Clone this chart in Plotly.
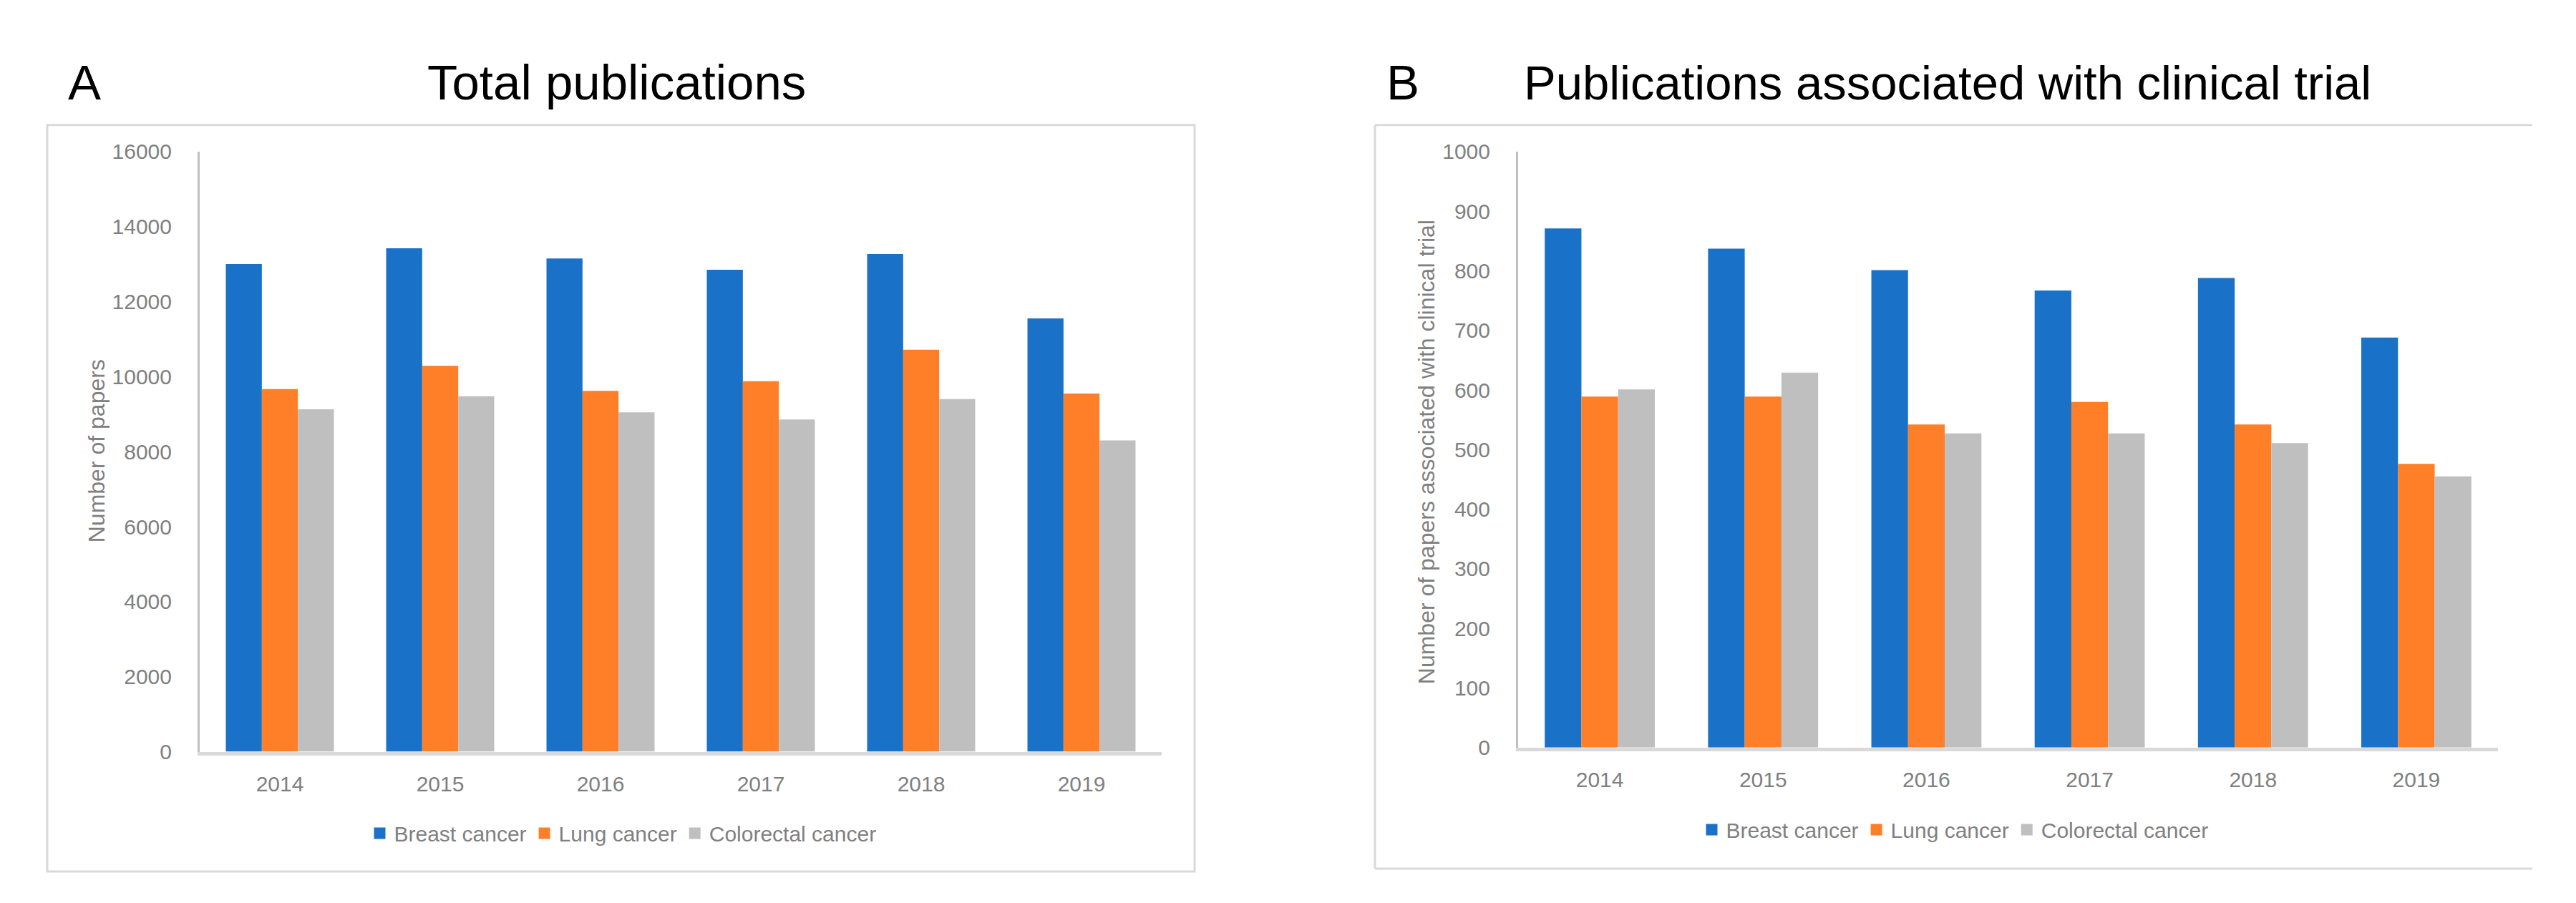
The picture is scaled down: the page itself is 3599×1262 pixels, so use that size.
import plotly.graph_objects as go

W, H = 3599, 1262

years = ["2014", "2015", "2016", "2017", "2018", "2019"]
series_names = ["Breast cancer", "Lung cancer", "Colorectal cancer"]

total_breast = [13000, 13420, 13150, 12850, 13270, 11550]
total_lung = [9670, 10290, 9620, 9880, 10720, 9550]
total_colorectal = [9130, 9480, 9050, 8860, 9400, 8300]

trial_breast = [871, 837, 801, 767, 788, 688]
trial_lung = [589, 589, 542, 580, 542, 476]
trial_colorectal = [601, 629, 527, 527, 511, 455]

colors = ["#1A71C8", "#FE7F27", "#BFBFBF"]
TEXT = "#808080"
FONT = "Liberation Sans, Arial, sans-serif"

def px(x):
    return x / W

def py(y):
    return 1 - y / H

fig = go.Figure()

panels = [
    ("x", "y", "legend", [total_breast, total_lung, total_colorectal]),
    ("x2", "y2", "legend2", [trial_breast, trial_lung, trial_colorectal]),
]
for xa, ya, lg, data in panels:
    for name, vals, c in zip(series_names, data, colors):
        fig.add_trace(go.Bar(x=years, y=vals, name=name, marker=dict(color=c, line=dict(width=0)),
                             xaxis=xa, yaxis=ya, showlegend=False))
    # legend entries with larger square swatches
    for name, c in zip(series_names, colors):
        fig.add_trace(go.Scatter(x=[None], y=[None], mode="markers", name=name,
                                 marker=dict(symbol="square", size=20, color=c),
                                 xaxis=xa, yaxis=ya, legend=lg, showlegend=True))

axis_common = dict(showgrid=False, zeroline=False, tickfont=dict(family=FONT, size=30, color=TEXT))

fig.update_layout(
    width=W, height=H,
    margin=dict(l=0, r=0, t=0, b=0),
    paper_bgcolor="white", plot_bgcolor="white",
    barmode="group", bargap=0.326, bargroupgap=0,
    font=dict(family=FONT, color=TEXT),
    xaxis=dict(domain=[px(271), px(1615)], anchor="y", showline=True, linecolor="#D9D9D9", linewidth=5,
               ticks="", ticklabelstandoff=14, **axis_common),
    yaxis=dict(domain=[py(1054), py(192)], anchor="x", range=[0, 16000], dtick=2000, tickformat="d",
               showline=True, linecolor="#BFBFBF", linewidth=3, ticks="", ticklabelstandoff=30,
               **axis_common),
    xaxis2=dict(domain=[px(2113), px(3482)], anchor="y2", showline=True, linecolor="#D9D9D9", linewidth=5,
                ticks="", ticklabelstandoff=14, **axis_common),
    yaxis2=dict(domain=[py(1048), py(192)], anchor="x2", range=[0, 1000], dtick=100, tickformat="d",
                showline=True, linecolor="#BFBFBF", linewidth=3, ticks="", ticklabelstandoff=30,
                **axis_common),
    legend=dict(orientation="h", x=px(862), y=py(1171), xanchor="center", yanchor="middle",
                font=dict(family=FONT, size=30, color=TEXT), bgcolor="rgba(0,0,0,0)", itemwidth=30,
                traceorder="normal"),
    legend2=dict(orientation="h", x=px(2723), y=py(1166), xanchor="center", yanchor="middle",
                 font=dict(family=FONT, size=30, color=TEXT), bgcolor="rgba(0,0,0,0)", itemwidth=30,
                 traceorder="normal"),
)

# Chart-area borders
fig.add_shape(type="rect", xref="paper", yref="paper", x0=px(58), x1=px(1661), y0=py(1226), y1=py(154),
              line=dict(color="#D9D9D9", width=3), layer="below")
for (x0, y0, x1, y1) in [(1913, 154, 3530, 154), (1913, 154, 1913, 1222), (1913, 1222, 3530, 1222)]:
    fig.add_shape(type="line", xref="paper", yref="paper", x0=px(x0), x1=px(x1), y0=py(y0), y1=py(y1),
                  line=dict(color="#D9D9D9", width=3), layer="below")

annots = [
    ("A", 110, 93, 69),
    ("Total publications", 853, 93, 69),
    ("B", 1952, 93, 69),
    ("Publications associated with clinical trial", 2713, 93, 67),
]
for t, x, y, s in annots:
    fig.add_annotation(text=t, xref="paper", yref="paper", x=px(x), y=py(y), xanchor="center",
                       yanchor="middle", showarrow=False, font=dict(family=FONT, size=s, color="black"))

fig.add_annotation(text="Number of papers", xref="paper", yref="paper", x=px(127), y=py(622),
                   textangle=-90, showarrow=False, xanchor="center", yanchor="middle",
                   font=dict(family=FONT, size=32, color=TEXT))
fig.add_annotation(text="Number of papers associated with clinical trial", xref="paper", yref="paper",
                   x=px(1985), y=py(623), textangle=-90, showarrow=False, xanchor="center", yanchor="middle",
                   font=dict(family=FONT, size=32, color=TEXT))

fig.write_html("out.html")
